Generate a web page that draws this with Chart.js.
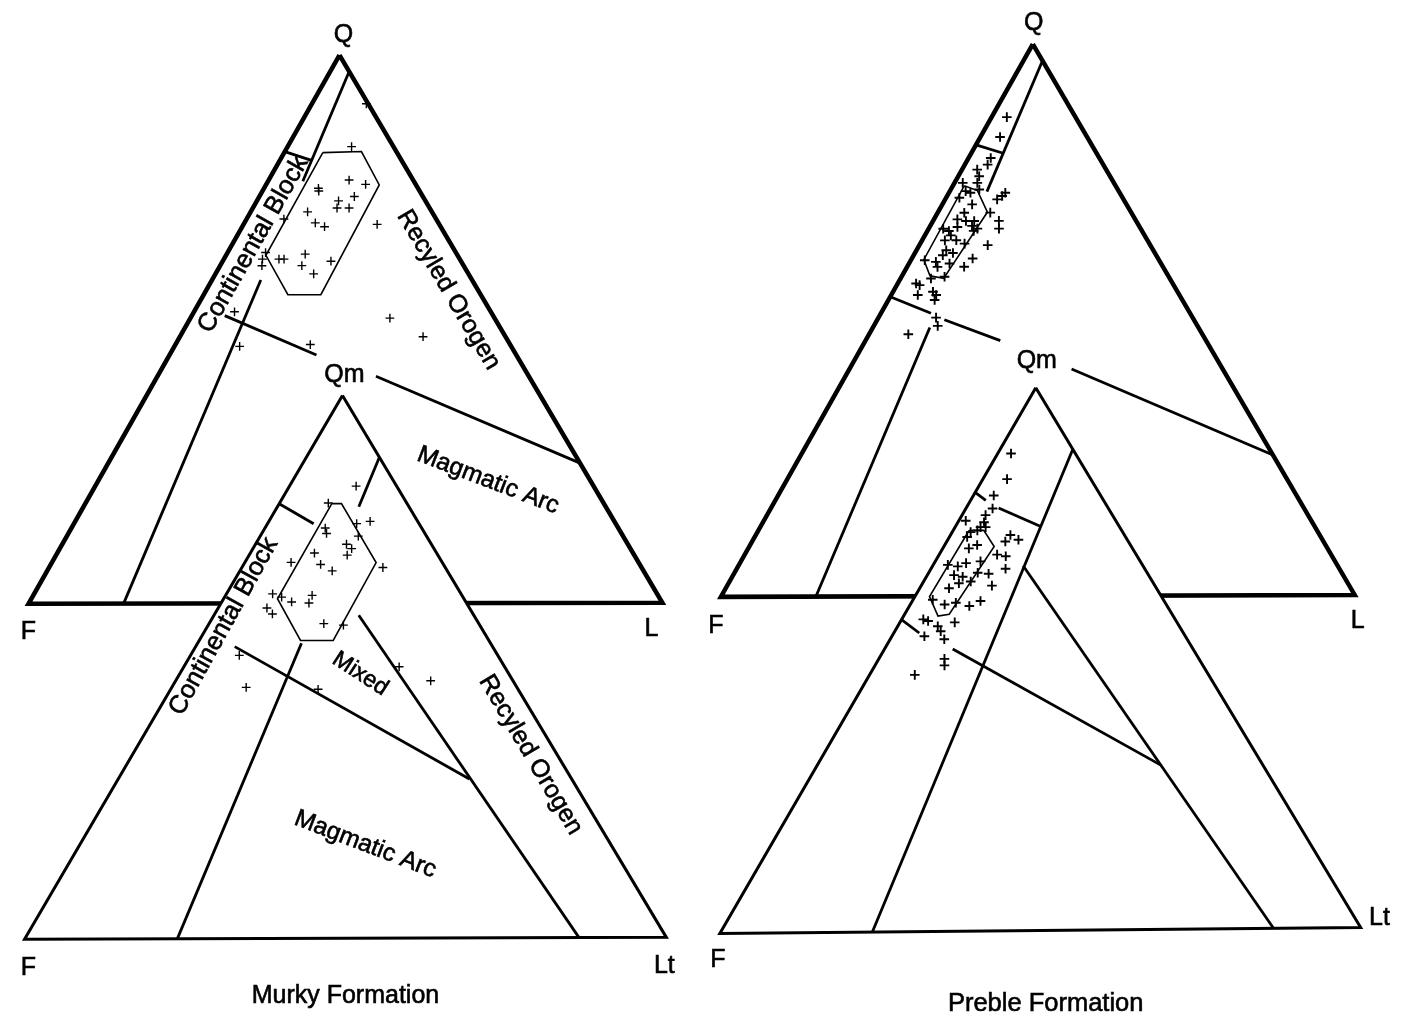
<!DOCTYPE html>
<html lang="en">
  <head>
    <meta charset="UTF-8" />
    <title>Murky and Preble Formations - QFL / QmFLt</title>
    <script src="https://cdn.jsdelivr.net/npm/chart.js"></script>
    <style>
      body {
        margin: 0;
        background: #fff;
      }
      .wrap {
        width: 1405px;
        height: 1024px;
        position: relative;
      }
    </style>
  </head>
  <body>
    <div class="wrap"><canvas id="ternary"></canvas></div>

    <script>
      // ---- sample compositions (percent) ----
      // Murky Formation, Q-F-L
      const murkyQflQ = [91.1, 83.3, 75.7, 75.2, 77.2, 76.4, 74.2, 73.4, 72.1, 72.1, 71.4, 69.4, 68.7, 70.1, 69.1, 63.7, 61.6, 60.1, 62.8, 62.8, 64.0, 62.8, 61.6, 62.4, 53.2, 46.9, 47.2, 52.0, 48.6];
      const murkyQflF = [0.3, 6.6, 15.7, 15.9, 10.1, 7.9, 10.8, 13.7, 14.6, 12.7, 19.6, 19.4, 18.3, 24.0, 9.8, 23.9, 25.5, 24.4, 28.5, 27.7, 30.0, 31.1, 31.8, 20.5, 40.4, 42.8, 31.5, 16.5, 13.0];
      const murkyQflL = [8.6, 10.1, 8.6, 8.9, 12.7, 15.7, 15.0, 12.9, 13.3, 15.2, 9.0, 11.2, 13.0, 5.9, 21.1, 12.4, 12.9, 15.5, 8.7, 9.5, 6.0, 6.1, 6.6, 17.1, 6.4, 10.3, 21.3, 31.5, 38.4];

      // Murky Formation, Qm-F-Lt
      const murkyQmfltQm = [83.3, 80.2, 76.8, 76.4, 75.6, 74.6, 74.1, 72.6, 71.8, 70.6, 71.0, 68.9, 67.7, 69.3, 68.3, 63.5, 62.9, 62.0, 63.2, 61.8, 60.9, 59.8, 58.0, 57.7, 52.2, 46.3, 45.9, 50.0, 47.4];
      const murkyQmfltF = [6.3, 12.2, 7.4, 9.7, 15.0, 15.3, 10.6, 13.2, 12.8, 14.1, 19.0, 19.1, 17.9, 23.5, 9.7, 29.3, 28.2, 27.1, 23.3, 24.5, 31.5, 31.2, 24.1, 21.2, 40.2, 42.1, 31.1, 16.4, 12.8];
      const murkyQmfltLt = [10.4, 7.6, 15.8, 13.9, 9.4, 10.1, 15.3, 14.2, 15.4, 15.3, 10.0, 12.0, 14.4, 7.2, 22.0, 7.2, 8.9, 10.9, 13.5, 13.7, 7.6, 9.0, 17.9, 21.1, 7.6, 11.6, 23.0, 33.6, 39.8];

      // Preble Formation, Q-F-L
      const prebleQflQ = [86.8, 83.2, 79.4, 78.2, 77.3, 76.1, 74.9, 73.7, 74.9, 73.4, 73.1, 72.2, 71.0, 73.1, 72.5, 71.9, 69.5, 68.0, 66.6, 69.5, 68.3, 68.0, 68.0, 66.6, 66.2, 66.9, 66.2, 66.6, 65.4, 64.5, 64.5, 63.9, 67.1, 63.6, 62.7, 62.2, 61.8, 60.3, 60.6, 59.7, 59.7, 61.2, 60.9, 57.6, 57.9, 56.7, 56.4, 54.6, 55.2, 53.7, 54.6, 50.5, 49.0, 47.5];
      const prebleQflF = [10.8, 13.7, 17.1, 18.2, 20.3, 20.6, 21.5, 21.8, 23.8, 24.1, 23.5, 25.7, 24.3, 18.0, 18.8, 19.9, 22.2, 21.6, 22.3, 26.3, 28.0, 26.8, 25.5, 31.1, 30.4, 28.7, 26.5, 25.7, 30.5, 31.9, 30.1, 29.1, 26.3, 25.6, 32.6, 31.8, 33.6, 33.3, 35.3, 35.5, 31.3, 29.2, 36.9, 37.6, 35.3, 40.4, 40.0, 41.2, 38.5, 39.0, 38.3, 40.4, 40.9, 46.3];
      const prebleQflL = [2.4, 3.1, 3.5, 3.6, 2.4, 3.3, 3.6, 4.5, 1.3, 2.5, 3.4, 2.1, 4.7, 8.9, 8.7, 8.2, 8.3, 10.4, 11.1, 4.2, 3.7, 5.2, 6.5, 2.3, 3.4, 4.4, 7.3, 7.7, 4.1, 3.6, 5.4, 7.0, 6.6, 10.8, 4.7, 6.0, 4.6, 6.4, 4.1, 4.8, 9.0, 9.6, 2.2, 4.8, 6.8, 2.9, 3.6, 4.2, 6.3, 7.3, 7.1, 9.1, 10.1, 6.2];

      // Preble Formation, Qm-F-Lt
      const prebleQmfltQm = [87.9, 83.2, 80.2, 77.8, 76.6, 75.6, 75.3, 73.5, 73.8, 74.4, 72.6, 71.1, 70.5, 72.9, 72.0, 71.7, 69.3, 69.0, 66.7, 63.6, 67.5, 67.2, 67.8, 68.1, 65.6, 65.3, 66.0, 65.8, 63.2, 64.1, 64.4, 60.2, 60.5, 59.9, 60.8, 61.1, 56.9, 57.5, 57.2, 56.2, 54.4, 55.3, 53.8, 50.2, 49.0, 47.3, 74.4];
      const prebleQmfltF = [10.0, 13.0, 16.6, 18.0, 19.7, 23.3, 20.6, 23.6, 22.4, 21.6, 24.6, 23.8, 25.4, 17.7, 16.9, 19.1, 21.6, 20.4, 21.6, 25.3, 30.2, 28.8, 27.2, 24.8, 30.2, 29.0, 26.3, 24.7, 32.2, 30.2, 28.2, 34.4, 32.5, 30.7, 28.5, 35.8, 34.5, 39.1, 38.5, 37.5, 40.5, 37.5, 37.7, 39.5, 40.1, 45.6, 20.8];
      const prebleQmfltLt = [2.1, 3.8, 3.2, 4.2, 3.7, 1.1, 4.1, 2.9, 3.8, 4.0, 2.8, 5.1, 4.1, 9.4, 11.1, 9.2, 9.1, 10.6, 11.7, 11.1, 2.3, 4.0, 5.0, 7.1, 4.2, 5.7, 7.7, 9.5, 4.6, 5.7, 7.4, 5.4, 7.0, 9.4, 10.7, 3.1, 8.6, 3.4, 4.3, 6.3, 5.1, 7.2, 8.5, 10.3, 10.9, 7.1, 4.8];

      // ---- provenance field boundaries, [top, F, right] percent per end ----
      const murkyQflBounds = [
        [[97, 0, 3], [77, 17.5, 5.5]],
        [[59, 33.3, 7.7], [0, 85, 15]],
        [[82.4, 17.6, 0], [80.8, 14.2, 5.0]],
        [[52.5, 42.3, 5.2], [45.3, 31.5, 23.2]],
        [[41.4, 24.1, 34.5], [25.5, 0, 74.5]],
      ];
      const murkyQmfltBounds = [
        [[88.6, 0, 11.4], [79.5, 7.8, 12.7]],
        [[54.4, 29.4, 16.2], [0, 76.2, 23.8]],
        [[80.1, 19.9, 0], [76.4, 16.4, 7.2]],
        [[59.5, 17.9, 22.6], [0, 13.6, 86.4]],
        [[53.8, 40.1, 6.1], [29.3, 15.9, 54.8]],
      ];
      const prebleQflBounds = [
        [[97, 0, 3], [73.3, 20.8, 5.9]],
        [[48.7, 42.3, 9.0], [0, 85, 15]],
        [[81.8, 18.2, 0], [80.3, 14.8, 4.9]],
        [[54.3, 45.7, 0], [51.3, 40.8, 7.9]],
        [[50.1, 39.3, 10.6], [46.3, 32.4, 21.3]],
        [[41.1, 23.8, 35.1], [25.4, 0, 74.6]],
      ];
      const prebleQmfltBounds = [
        [[88.6, 0, 11.4], [0, 76.2, 23.8]],
        [[80.8, 19.2, 0], [79.3, 18.3, 2.4]],
        [[77.9, 17.0, 5.1], [74.4, 12.2, 13.4]],
        [[67.2, 18.6, 14.2], [0, 13.6, 86.4]],
        [[57.5, 42.5, 0], [55.0, 41.0, 4.0]],
        [[52.0, 37.3, 10.7], [30.2, 15.8, 54.0]],
      ];

      // mean +/- one sigma envelopes
      const murkyQflHex = [[82.2, 11.7, 6.1], [82.4, 5.5, 12.1], [76.3, 5.8, 17.9], [56.3, 25.2, 18.5], [56.3, 30.4, 13.3], [63.5, 30.2, 6.3]];
      const murkyQmfltHex = [[80.1, 11.7, 8.2], [80.1, 10.2, 9.7], [69.2, 10.3, 20.5], [54.9, 24.2, 20.9], [54.9, 29.3, 15.8], [62.6, 29.0, 8.4]];
      const prebleQflHex = [[74.4, 23.8, 1.8], [73.5, 22.2, 4.3], [69.6, 22.6, 7.8], [57.6, 35.6, 6.8], [58.1, 37.5, 4.4], [61.0, 37.0, 2.0]];
      const prebleQmfltHex = [[73.8, 23.7, 2.5], [73.8, 21.4, 4.8], [70.8, 21.3, 7.9], [58.4, 34.6, 7.0], [58.1, 36.5, 5.4], [61.7, 36.0, 2.3]];

      // ---- where each triangle sits on the page (vertex positions) ----
      const triangles = {
        murkyQfl: { top: [336, 49], left: [22, 605], right: [662, 604], edge: 4.5 },
        murkyQmflt: { top: [339, 394], left: [18, 945], right: [666, 943], edge: 3 },
        prebleQfl: { top: [1036, 38], left: [721, 598], right: [1361, 596], edge: 4.5 },
        prebleQmflt: { top: [1039, 386], left: [720, 939], right: [1367, 933], edge: 3 },
      };

      const textFont = '"Liberation Sans", Arial, Helvetica, sans-serif';
      const captions = [
        { text: 'Q', x: 340, y: 29, size: 25, angle: 0 },
        { text: 'F', x: 22, y: 634, size: 25, angle: 0 },
        { text: 'L', x: 651, y: 631, size: 25, angle: 0 },
        { text: 'Qm', x: 341, y: 373, size: 25, angle: 0 },
        { text: 'F', x: 22, y: 974, size: 25, angle: 0 },
        { text: 'Lt', x: 664, y: 972, size: 25, angle: 0 },
        { text: 'Murky Formation', x: 342, y: 1003, size: 25, angle: 0 },
        { text: 'Continental Block', x: 249, y: 241, size: 25.5, angle: -60.5 },
        { text: 'Recyled Orogen', x: 446, y: 287, size: 25, angle: 59.6 },
        { text: 'Magmatic Arc', x: 486, y: 480, size: 24.5, angle: 21 },
        { text: 'Continental Block', x: 219, y: 628, size: 25.5, angle: -61 },
        { text: 'Mixed', x: 357, y: 676, size: 23, angle: 33 },
        { text: 'Recyled Orogen', x: 529, y: 758, size: 25, angle: 59.5 },
        { text: 'Magmatic Arc', x: 362, y: 849, size: 24.5, angle: 21 },
        { text: 'Q', x: 1037, y: 17, size: 25, angle: 0 },
        { text: 'F', x: 716, y: 628, size: 25, angle: 0 },
        { text: 'L', x: 1364, y: 623, size: 25, angle: 0 },
        { text: 'Qm', x: 1040, y: 359, size: 25, angle: 0 },
        { text: 'F', x: 718, y: 966, size: 25, angle: 0 },
        { text: 'Lt', x: 1386, y: 923, size: 25, angle: 0 },
        { text: 'Preble Formation', x: 1049, y: 1010, size: 25.5, angle: 0 },
      ];

      // barycentric -> page units of the hidden linear scales
      function toXY(tri, a, b, c) {
        const s = a + b + c;
        return {
          x: (a * tri.top[0] + b * tri.left[0] + c * tri.right[0]) / s,
          y: (a * tri.top[1] + b * tri.left[1] + c * tri.right[1]) / s,
        };
      }

      function outline(tri, order) {
        return {
          data: [toXY(tri, 100, 0, 0), toXY(tri, 0, 100, 0), toXY(tri, 0, 0, 100), toXY(tri, 100, 0, 0)],
          borderColor: '#000',
          borderWidth: tri.edge,
          borderJoinStyle: 'miter',
          backgroundColor: '#fff',
          fill: 'shape',
          pointRadius: 0,
          order: order,
        };
      }

      function segments(tri, bounds, order) {
        return bounds.map((seg) => ({
          data: seg.map((p) => toXY(tri, p[0], p[1], p[2])),
          borderColor: '#000',
          borderWidth: 2.8,
          borderCapStyle: 'butt',
          fill: false,
          pointRadius: 0,
          order: order,
        }));
      }

      function envelope(tri, hex, order) {
        const pts = hex.map((p) => toXY(tri, p[0], p[1], p[2]));
        pts.push(pts[0]);
        return {
          data: pts,
          borderColor: '#000',
          borderWidth: 1.6,
          borderJoinStyle: 'miter',
          fill: false,
          pointRadius: 0,
          order: order,
        };
      }

      function samples(tri, a, b, c, size, width, order) {
        return {
          data: a.map((v, i) => toXY(tri, v, b[i], c[i])),
          showLine: false,
          pointStyle: 'cross',
          pointRadius: size,
          pointBorderWidth: width,
          pointBorderColor: '#000',
          pointBackgroundColor: '#000',
          order: order,
        };
      }

      const t = triangles;
      const datasets = [
        outline(t.murkyQfl, 100),
        ...segments(t.murkyQfl, murkyQflBounds, 99),
        envelope(t.murkyQfl, murkyQflHex, 98),
        samples(t.murkyQfl, murkyQflQ, murkyQflF, murkyQflL, 4.4, 1.4, 97),
        outline(t.murkyQmflt, 60),
        ...segments(t.murkyQmflt, murkyQmfltBounds, 59),
        envelope(t.murkyQmflt, murkyQmfltHex, 58),
        samples(t.murkyQmflt, murkyQmfltQm, murkyQmfltF, murkyQmfltLt, 4.4, 1.4, 57),
        outline(t.prebleQfl, 100),
        ...segments(t.prebleQfl, prebleQflBounds, 99),
        envelope(t.prebleQfl, prebleQflHex, 98),
        samples(t.prebleQfl, prebleQflQ, prebleQflF, prebleQflL, 4.8, 1.9, 97),
        outline(t.prebleQmflt, 60),
        ...segments(t.prebleQmflt, prebleQmfltBounds, 59),
        envelope(t.prebleQmflt, prebleQmfltHex, 58),
        samples(t.prebleQmflt, prebleQmfltQm, prebleQmfltF, prebleQmfltLt, 4.8, 1.9, 57),
      ];

      // vertex names, field names and captions (thin stroke for the heavier print look)
      const captionPlugin = {
        id: 'captions',
        afterDatasetsDraw(chart) {
          const { ctx, scales } = chart;
          captions.forEach((c) => {
            ctx.save();
            ctx.translate(scales.x.getPixelForValue(c.x), scales.y.getPixelForValue(c.y));
            ctx.rotate((c.angle * Math.PI) / 180);
            ctx.font = `${c.size}px ${textFont}`;
            ctx.fillStyle = '#000';
            ctx.strokeStyle = '#000';
            ctx.lineWidth = 0.6;
            ctx.textAlign = 'center';
            ctx.textBaseline = 'middle';
            ctx.fillText(c.text, 0, 0);
            ctx.strokeText(c.text, 0, 0);
            ctx.restore();
          });
        },
      };

      new Chart(document.getElementById('ternary'), {
        type: 'line',
        data: { datasets },
        options: {
          responsive: true,
          maintainAspectRatio: false,
          animation: false,
          events: [],
          layout: { padding: 0 },
          elements: { line: { tension: 0 } },
          plugins: {
            legend: { display: false },
            tooltip: { enabled: false },
          },
          scales: {
            x: { type: 'linear', min: 0, max: 1405, display: false },
            y: { type: 'linear', min: 0, max: 1024, reverse: true, display: false },
          },
        },
        plugins: [captionPlugin],
      });
    </script>
  </body>
</html>
